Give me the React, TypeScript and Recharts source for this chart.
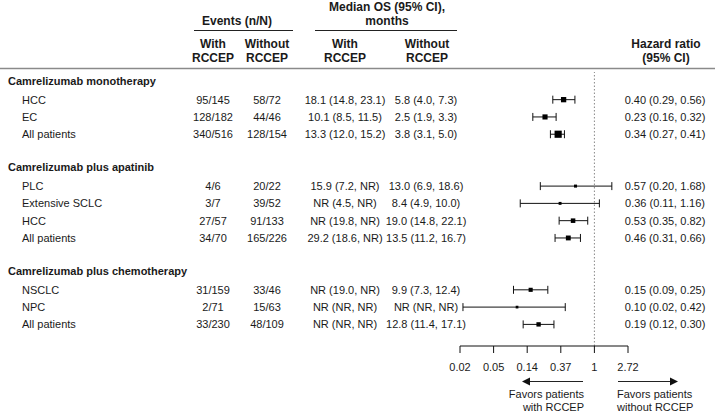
import { ScatterChart, Scatter, XAxis, YAxis, ErrorBar, ReferenceLine } from 'recharts'

const groups = ['Camrelizumab monotherapy', 'Camrelizumab plus apatinib', 'Camrelizumab plus chemotherapy']
const subgroups = [
  ['HCC', 'EC', 'All patients'],
  ['PLC', 'Extensive SCLC', 'HCC', 'All patients'],
  ['NSCLC', 'NPC', 'All patients'],
]
const eventsWith = ['95/145', '128/182', '340/516', '4/6', '3/7', '27/57', '34/70', '31/159', '2/71', '33/230']
const eventsWithout = ['58/72', '44/46', '128/154', '20/22', '39/52', '91/133', '165/226', '33/46', '15/63', '48/109']
const osWith = [
  '18.1 (14.8, 23.1)', '10.1 (8.5, 11.5)', '13.3 (12.0, 15.2)',
  '15.9 (7.2, NR)', 'NR (4.5, NR)', 'NR (19.8, NR)', '29.2 (18.6, NR)',
  'NR (19.0, NR)', 'NR (NR, NR)', 'NR (NR, NR)',
]
const osWithout = [
  '5.8 (4.0, 7.3)', '2.5 (1.9, 3.3)', '3.8 (3.1, 5.0)',
  '13.0 (6.9, 18.6)', '8.4 (4.9, 10.0)', '19.0 (14.8, 22.1)', '13.5 (11.2, 16.7)',
  '9.9 (7.3, 12.4)', 'NR (NR, NR)', '12.8 (11.4, 17.1)',
]
const hr = [0.40, 0.23, 0.34, 0.57, 0.36, 0.53, 0.46, 0.15, 0.10, 0.19]
const hrLow = [0.29, 0.16, 0.27, 0.20, 0.11, 0.35, 0.31, 0.09, 0.02, 0.12]
const hrHigh = [0.56, 0.32, 0.41, 1.68, 1.16, 0.82, 0.66, 0.25, 0.42, 0.30]
const lnTicks = [-4, -3, -2, -1, 0, 1]

const FONT = '"Liberation Sans", Arial, sans-serif'

// build rows: header line per group, one blank line between groups
type Row = { pos: number; header?: string; i?: number; label?: string }
const rows: Row[] = []
const points: any[] = []
{
  let pos = 0
  let k = 0
  groups.forEach((g, gi) => {
    if (gi > 0) pos += 1
    rows.push({ pos: pos - 0.08, header: g })
    pos += 1
    subgroups[gi].forEach((s) => {
      rows.push({ pos, i: k, label: s })
      points.push({
        y: pos,
        hr: hr[k],
        err: [hr[k] - hrLow[k], hrHigh[k] - hr[k]],
        side: 2 + 2.16 / Math.log(hrHigh[k] / hrLow[k]),
      })
      pos += 1
      k += 1
    })
  })
}

const fmt = (v: number) => v.toFixed(2)

const RowTick = (props: any) => {
  const { y, payload } = props
  const row = rows.find((r) => Math.abs(r.pos - payload.value) < 1e-6)
  if (!row) return null
  const common = { fontFamily: FONT, fontSize: 11, fill: '#1a1a1a', dy: '0.36em' }
  if (row.header) {
    return <text x={8} y={y} {...common} fontWeight="bold" textAnchor="start">{row.header}</text>
  }
  const i = row.i as number
  return (
    <g>
      <text x={22} y={y} {...common} textAnchor="start">{row.label}</text>
      <text x={213} y={y} {...common} textAnchor="middle">{eventsWith[i]}</text>
      <text x={267} y={y} {...common} textAnchor="middle">{eventsWithout[i]}</text>
      <text x={345} y={y} {...common} textAnchor="middle">{osWith[i]}</text>
      <text x={426} y={y} {...common} textAnchor="middle">{osWithout[i]}</text>
      <text x={665} y={y} {...common} textAnchor="middle">{`${fmt(hr[i])} (${fmt(hrLow[i])}, ${fmt(hrHigh[i])})`}</text>
    </g>
  )
}

const Square = (props: any) => {
  const { cx, cy, payload } = props
  const s = payload.side
  return <rect x={cx - s / 2} y={cy - s / 2} width={s} height={s} fill="#000" />
}

const Header = () => {
  const t = { fontFamily: FONT, fontSize: 12, fontWeight: 'bold' as const, fill: '#1a1a1a', textAnchor: 'middle' as const, dominantBaseline: 'central' as const }
  const n = { fontFamily: FONT, fontSize: 11, fill: '#1a1a1a', dominantBaseline: 'central' as const }
  return (
    <svg width={715} height={412} style={{ position: 'absolute', left: 0, top: 0, pointerEvents: 'none' }}>
      <text x={387} y={7} {...t}>Median OS (95% CI),</text>
      <text x={387} y={21} {...t}>months</text>
      <text x={237} y={21} {...t}>Events (n/N)</text>
      <line x1={194} x2={293} y1={30.5} y2={30.5} stroke="#222" strokeWidth={1} />
      <line x1={315} x2={457} y1={30.5} y2={30.5} stroke="#222" strokeWidth={1} />
      <text x={213} y={44} {...t}>With</text>
      <text x={213} y={58} {...t}>RCCEP</text>
      <text x={267} y={44} {...t}>Without</text>
      <text x={267} y={58} {...t}>RCCEP</text>
      <text x={345} y={44} {...t}>With</text>
      <text x={345} y={58} {...t}>RCCEP</text>
      <text x={427} y={44} {...t}>Without</text>
      <text x={427} y={58} {...t}>RCCEP</text>
      <text x={666} y={44} {...t}>Hazard ratio</text>
      <text x={666} y={58} {...t}>(95% CI)</text>
      <line x1={0} x2={715} y1={68.5} y2={68.5} stroke="#8a8a8a" strokeWidth={1.5} />
      {/* direction arrows */}
      <line x1={583} x2={529} y1={381.5} y2={381.5} stroke="#222" strokeWidth={1} />
      <polygon points="522,381.5 530,377.5 530,385.5" fill="#111" />
      <line x1={618} x2={671} y1={381.5} y2={381.5} stroke="#222" strokeWidth={1} />
      <polygon points="678,381.5 670,377.5 670,385.5" fill="#111" />
      <text x={584} y={393.5} {...n} textAnchor="end">Favors patients</text>
      <text x={584} y={406.5} {...n} textAnchor="end">with RCCEP</text>
      <text x={617} y={393.5} {...n} textAnchor="start">Favors patients</text>
      <text x={617} y={406.5} {...n} textAnchor="start">without RCCEP</text>
    </svg>
  )
}

export default function App() {
  return (
    <div style={{ position: 'absolute', left: 0, top: 0, width: 715, height: 412, background: '#fff' }}>
      <ScatterChart width={715} height={412} margin={{ top: 72, right: 87, bottom: 36, left: 400 }}>
        <XAxis
          type="number"
          dataKey="hr"
          scale="log"
          domain={[Math.exp(-4), Math.exp(1)]}
          allowDataOverflow
          ticks={lnTicks.map((t) => Math.exp(t))}
          tickFormatter={(v: number) => (Math.abs(v - 1) < 1e-9 ? '1' : fmt(v))}
          stroke="#111"
          height={30}
          tickSize={7}
          tickMargin={10}
          tick={{ fontFamily: FONT, fontSize: 11, fill: '#1a1a1a' }}
        />
        <YAxis
          type="number"
          dataKey="y"
          reversed
          domain={[-0.6, 15.25]}
          allowDataOverflow
          width={60}
          ticks={rows.map((r) => r.pos)}
          interval={0}
          axisLine={false}
          tickLine={false}
          tick={<RowTick />}
        />
        <ReferenceLine x={1} stroke="#888" strokeDasharray="1.5 2" />
        <Scatter data={points} shape={<Square />} isAnimationActive={false}>
          <ErrorBar dataKey="err" direction="x" width={4} stroke="#111" strokeWidth={1} isAnimationActive={false} />
        </Scatter>
      </ScatterChart>
      <Header />
    </div>
  )
}
